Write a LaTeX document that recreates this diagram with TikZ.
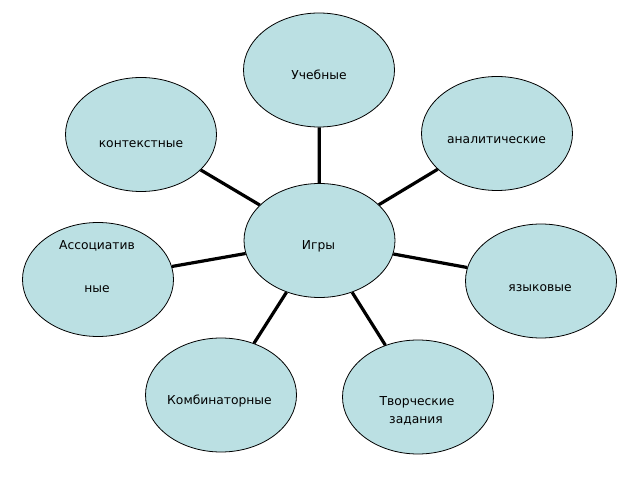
\documentclass[tikz,border=0pt]{standalone}
\usepackage{fontspec}
\setmainfont{DejaVu Sans}
\usetikzlibrary{shapes.geometric}
\definecolor{bubble}{RGB}{187,224,227}
\tikzset{
  bub/.style={ellipse, draw=black, line width=0.8pt, fill=bubble, minimum width=151pt, minimum height=114pt, inner sep=0pt},
  lbl/.style={inner sep=0pt, font=\fontsize{12.3}{14}\selectfont, anchor=center},
  spoke/.style={line width=3.2pt, draw=black}
}
\begin{document}
\begin{tikzpicture}[x=1pt,y=-1pt]
\useasboundingbox (0,0) rectangle (638,481);
\node[bub] (uch) at (319,70) {};
\node[bub] (kont) at (141,134.5) {};
\node[bub] (anal) at (497,133.5) {};
\node[bub] (igry) at (319.5,240.5) {};
\node[bub] (assoc) at (98,279.5) {};
\node[bub] (yaz) at (541,281) {};
\node[bub] (komb) at (221,395) {};
\node[bub] (tvor) at (418,397) {};
\draw[spoke] (igry) -- (uch);
\draw[spoke] (igry) -- (kont);
\draw[spoke] (igry) -- (anal);
\draw[spoke] (igry) -- (assoc);
\draw[spoke] (igry) -- (yaz);
\draw[spoke] (igry) -- (komb);
\draw[spoke] (igry) -- (tvor);
\node[lbl] (tuch) at (319,75) {Учебные};
\node[lbl] (tkont) at (141,144) {контекстные};
\node[lbl] (tanal) at (496.5,140) {аналитические};
\node[lbl] (tigry) at (318.5,246) {Игры};
\node[lbl] (tassoc1) at (97,246) {Ассоциатив};
\node[lbl] (tassoc2) at (97,289) {ные};
\node[lbl] (tyaz) at (540,288) {языковые};
\node[lbl] (tkomb) at (219.5,401) {Комбинаторные};
\node[lbl] (ttvor1) at (417,402) {Творческие};
\node[lbl] (ttvor2) at (416,421) {задания};
\end{tikzpicture}
\end{document}
